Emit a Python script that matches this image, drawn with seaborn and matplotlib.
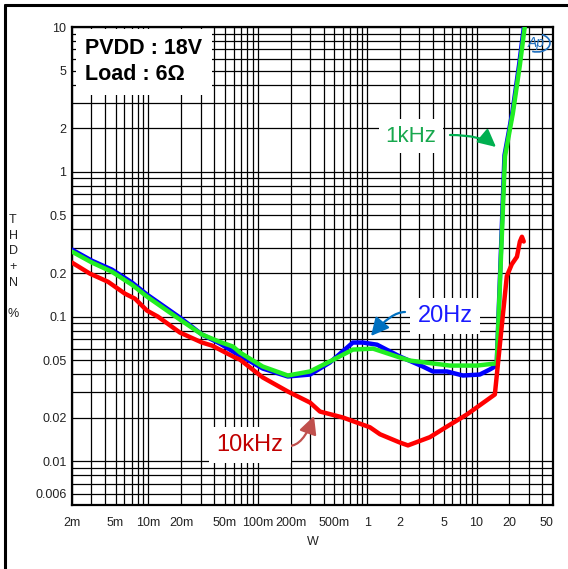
import numpy as np
import pandas as pd
import matplotlib
matplotlib.use("Agg")
import matplotlib.pyplot as plt
from matplotlib.lines import Line2D
from matplotlib.patches import Arc
from matplotlib.ticker import FixedLocator, NullFormatter
import seaborn as sns

# ---------------- data ----------------
x_20hz = [0.002, 0.00305, 0.00464, 0.00707, 0.0097, 0.0194, 0.0309, 0.0451, 0.0593,
          0.111, 0.188, 0.30, 0.456, 0.74, 0.914, 1.23, 1.99, 3.23, 3.99, 5.36, 7.5,
          10.7, 13.2, 14.7, 15.3, 18.0, 21.3, 24.5, 27.3]
y_20hz = [0.290, 0.243, 0.211, 0.172, 0.142, 0.0985, 0.0752, 0.0651, 0.0574,
          0.0438, 0.0386, 0.0398, 0.0482, 0.0662, 0.0662, 0.064, 0.053, 0.0452, 0.0418,
          0.0418, 0.0392, 0.0398, 0.0431, 0.0452, 0.0474, 1.3, 2.6, 5.5, 10.5]

x_1khz = [0.002, 0.00305, 0.00464, 0.00707, 0.0097, 0.0194, 0.0309, 0.0451, 0.0593,
          0.0686, 0.111, 0.188, 0.30, 0.456, 0.74, 1.13, 1.99, 2.46, 5.7, 10.07, 14.7,
          15.3, 18.2, 21.5, 24.9, 27.7]
y_1khz = [0.281, 0.236, 0.204, 0.166, 0.1375, 0.0954, 0.0752, 0.0668, 0.0621,
          0.0565, 0.0452, 0.0392, 0.0418, 0.049, 0.0592, 0.0601, 0.0522, 0.0497, 0.0459,
          0.0459, 0.0474, 0.0474, 1.28, 2.55, 5.47, 10.3]

x_10khz = [0.002, 0.00292, 0.00427, 0.0061, 0.00753, 0.0097, 0.0122, 0.0194, 0.0309,
           0.0381, 0.0618, 0.0686, 0.111, 0.188, 0.30, 0.37, 0.6, 1.06, 1.31, 1.99, 2.36,
           3.74, 5.36, 8.16, 14.7, 18.9, 21.0, 23.4, 24.9, 26.0, 27.0]
y_10khz = [0.236, 0.198, 0.174, 0.144, 0.133, 0.110, 0.100, 0.0776, 0.0662,
           0.0631, 0.0522, 0.0505, 0.038, 0.0304, 0.0255, 0.0221, 0.0201, 0.0172, 0.0154,
           0.0135, 0.0129, 0.0147, 0.0174, 0.0211, 0.029, 0.19, 0.23, 0.259, 0.33, 0.356, 0.33]

series_names = ["20Hz", "1kHz", "10kHz"]
x_ticks = [0.002, 0.005, 0.01, 0.02, 0.05, 0.1, 0.2, 0.5, 1, 2, 5, 10, 20, 50]
x_labels = ["2m", "5m", "10m", "20m", "50m", "100m", "200m", "500m", "1", "2", "5", "10", "20", "50"]
y_ticks = [10, 5, 2, 1, 0.5, 0.2, 0.1, 0.05, 0.02, 0.01, 0.006]
y_labels = ["10", "5", "2", "1", "0.5", "0.2", "0.1", "0.05", "0.02", "0.01", "0.006"]

df = pd.concat([
    pd.DataFrame({"W": x_20hz, "THD": y_20hz, "freq": "20Hz"}),
    pd.DataFrame({"W": x_1khz, "THD": y_1khz, "freq": "1kHz"}),
    pd.DataFrame({"W": x_10khz, "THD": y_10khz, "freq": "10kHz"}),
], ignore_index=True)

# ---------------- style ----------------
sns.set_theme(style="white")
plt.rcParams["font.family"] = ["Liberation Sans", "DejaVu Sans"]

W_PX, H_PX = 568, 569
fig = plt.figure(figsize=(W_PX / 100, H_PX / 100), dpi=100)
fig.patch.set_facecolor("white")
L, R, T, B = 72, 553, 27, 505
ax = fig.add_axes([L / W_PX, 1 - B / H_PX, (R - L) / W_PX, (B - T) / H_PX])

palette = {"20Hz": "#0000ff", "1kHz": "#22ee22", "10kHz": "#ff0000"}
sns.lineplot(data=df, x="W", y="THD", hue="freq", hue_order=series_names,
             palette=palette, estimator=None, sort=False, lw=3.2, ax=ax,
             legend=False, zorder=5)
for ln in ax.get_lines():
    ln.set_solid_capstyle("round")
    ln.set_solid_joinstyle("round")

ax.set_xscale("log")
ax.set_yscale("log")
ax.set_xlim(0.002, 50)
ax.set_ylim(0.005, 10)

# grid at every 1..9 multiple
xminor = [m * 10.0 ** e for e in range(-3, 2) for m in range(1, 10)]
yminor = [m * 10.0 ** e for e in range(-3, 1) for m in range(1, 10)]
ax.xaxis.set_minor_locator(FixedLocator(xminor))
ax.yaxis.set_minor_locator(FixedLocator(yminor))
ax.xaxis.set_minor_formatter(NullFormatter())
ax.yaxis.set_minor_formatter(NullFormatter())
ax.set_xticks(x_ticks)
ax.set_xticklabels(x_labels)
ax.set_yticks(y_ticks)
ax.set_yticklabels(y_labels)
ax.grid(True, which="both", color="black", lw=0.9, zorder=0)
ax.tick_params(which="both", length=0, labelsize=9, colors="#222222")
ax.tick_params(axis="x", pad=9)
ax.tick_params(axis="y", pad=4)
xl = ax.get_xticklabels()
xl[-1].set_horizontalalignment("right")
ax.set_xlabel("")
ax.set_ylabel("")
for s in ax.spines.values():
    s.set_visible(True)
    s.set_color("black")
    s.set_linewidth(1.6)

# ---------------- annotations ----------------
ax.text(0.028, 0.976, "PVDD : 18V\nLoad : 6Ω", transform=ax.transAxes,
        ha="left", va="top", fontsize=15.5, fontweight="bold", color="black",
        linespacing=1.3, zorder=6,
        bbox=dict(boxstyle="square,pad=0.45", fc="white", ec="none"))

def fx(px):
    return px / W_PX

def fy(py):
    return 1 - py / H_PX

# 1kHz
fig.text(fx(411), fy(136), "1kHz", ha="center", va="center", fontsize=16,
         color="#18a84e", zorder=6,
         bbox=dict(boxstyle="square,pad=0.3", fc="white", ec="none"))
ax.annotate("", xy=(fx(496), fy(147)), xycoords="figure fraction",
            xytext=(fx(450), fy(135)), textcoords="figure fraction",
            arrowprops=dict(arrowstyle="-|>,head_length=0.9,head_width=0.45",
                            color="#00b050", lw=1.6,
                            connectionstyle="angle3,angleA=0,angleB=-40",
                            shrinkA=0, shrinkB=0), zorder=7)

# 20Hz
fig.text(fx(445), fy(316), "20Hz", ha="center", va="center", fontsize=17,
         color="#1a1aff", zorder=6,
         bbox=dict(boxstyle="square,pad=0.3", fc="white", ec="none"))
ax.annotate("", xy=(fx(371), fy(336)), xycoords="figure fraction",
            xytext=(fx(405), fy(312)), textcoords="figure fraction",
            arrowprops=dict(arrowstyle="-|>,head_length=0.9,head_width=0.45",
                            color="#0070c0", lw=1.6,
                            connectionstyle="angle3,angleA=180,angleB=-130",
                            shrinkA=0, shrinkB=0), zorder=7)

# 10kHz
fig.text(fx(250), fy(445), "10kHz", ha="center", va="center", fontsize=17,
         color="#c00000", zorder=6,
         bbox=dict(boxstyle="square,pad=0.3", fc="white", ec="none"))
ax.annotate("", xy=(fx(314), fy(416)), xycoords="figure fraction",
            xytext=(fx(289), fy(446)), textcoords="figure fraction",
            arrowprops=dict(arrowstyle="-|>,head_length=0.9,head_width=0.45",
                            color="#c0504d", lw=1.6,
                            connectionstyle="angle3,angleA=0,angleB=70",
                            shrinkA=0, shrinkB=0), zorder=7)

# Ap logo
fig.text(fx(536), fy(43), "Ap", ha="center", va="center", fontsize=10,
         fontstyle="italic", color="#1f6fbf", zorder=8)
fig.add_artist(Arc((fx(537), fy(43)), 26 / W_PX, 18 / H_PX, theta1=-120, theta2=60,
                   color="#1f6fbf", lw=1.2, transform=fig.transFigure))

# axis labels
fig.text(fx(313), fy(542), "W", ha="center", va="center", fontsize=9, color="#222222")
fig.text(fx(13), fy(267), "T\nH\nD\n+\nN\n\n%", ha="center", va="center",
         fontsize=9, color="#222222", linespacing=1.4)

# outer frame lines (left and top)
fig.add_artist(Line2D([fx(5), fx(5)], [fy(5), 0], color="black", lw=2.2,
                      transform=fig.transFigure))
fig.add_artist(Line2D([fx(5), 1], [fy(5), fy(5)], color="black", lw=2.2,
                      transform=fig.transFigure))

fig.savefig("out.png", dpi=100, facecolor="white")
